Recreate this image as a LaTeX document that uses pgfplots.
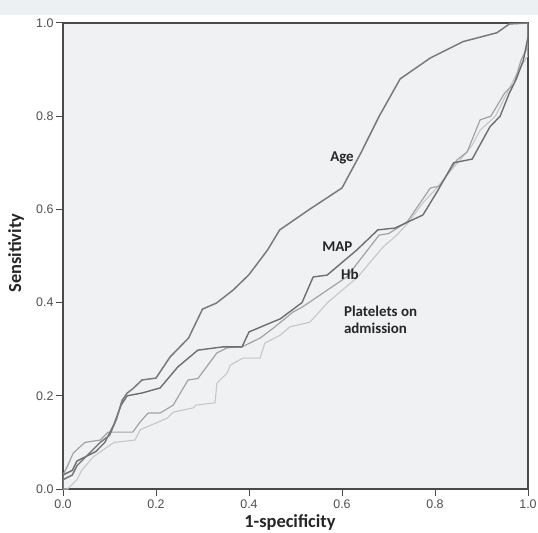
\documentclass[border=0pt]{standalone}
\usepackage{fontspec}
\setmainfont{Carlito}
\newfontfamily\arialfont{Liberation Sans}
\usepackage{pgfplots}
\pgfplotsset{compat=1.18}

\definecolor{bgplot}{HTML}{F0F1F3}
\definecolor{topband}{HTML}{EDF0F3}
\definecolor{axisgray}{HTML}{4A4A4A}
\definecolor{ticklab}{HTML}{4F4F4F}
\definecolor{agecol}{HTML}{7A7A7A}
\definecolor{mapcol}{HTML}{6E6E6E}
\definecolor{hbcol}{HTML}{A2A2A2}
\definecolor{pltcol}{HTML}{C6C6C6}

\begin{document}
\begin{tikzpicture}
\path[use as bounding box] (-63bp,-44bp) rectangle (475bp,489bp);
\fill[topband] (-63bp,474bp) rectangle (475bp,489bp);
\begin{axis}[
    scale only axis,
    width=465bp,
    height=466bp,
    xmin=0, xmax=1,
    ymin=0, ymax=1,
    xtick={0,0.2,...,1.0},
    ytick={0,0.2,...,1.0},
    xticklabel={\pgfmathprintnumber[fixed,fixed zerofill,precision=1,assume math mode=true]{\tick}},
    yticklabel={\pgfmathprintnumber[fixed,fixed zerofill,precision=1,assume math mode=true]{\tick}},
    tick label style={font=\arialfont\fontsize{12.5}{13}\selectfont, text=ticklab},
    yticklabel style={xshift=1bp},
    tick align=outside,
    tick pos=left,
    major tick length=7bp,
    every tick/.style={axisgray, line width=1pt},
    axis line style={axisgray, line width=1.3pt},
    axis background/.style={fill=bgplot},
    xlabel={\bfseries 1-specificity},
    ylabel={\bfseries Sensitivity},
    label style={font=\fontsize{18.5}{20}\selectfont, text=black!85},
    xlabel style={at={(axis description cs:0.488,0)}, anchor=base, yshift=-38bp},
    ylabel style={at={(axis description cs:-0.0903,0.506)}, anchor=base},
    clip=true,
]

% Platelets on admission
\addplot[pltcol, line width=1.1pt] coordinates {
(0,0) (0.01,0) (0.02,0.01) (0.03,0.02) (0.04,0.04) (0.065,0.069) (0.095,0.09)
(0.11,0.1) (0.155,0.105) (0.166,0.127) (0.224,0.152) (0.237,0.165) (0.28,0.174)
(0.286,0.18) (0.327,0.185) (0.331,0.227) (0.353,0.249) (0.36,0.266) (0.387,0.281)
(0.424,0.281) (0.434,0.313) (0.467,0.33) (0.488,0.348) (0.531,0.358) (0.57,0.401)
(0.634,0.455) (0.688,0.519) (0.718,0.545) (0.742,0.571) (0.774,0.614) (0.804,0.646)
(0.826,0.674) (0.854,0.706) (0.88,0.738) (0.897,0.77) (0.93,0.8) (0.96,0.86)
(0.98,0.9) (1,0.93) (1,1)
};

% Hb
\addplot[hbcol, line width=1.2pt] coordinates {
(0,0) (0,0.03) (0.01,0.05) (0.022,0.077) (0.047,0.1) (0.08,0.105) (0.097,0.122)
(0.15,0.122) (0.166,0.144) (0.183,0.163) (0.209,0.163) (0.237,0.18) (0.269,0.234)
(0.29,0.237) (0.331,0.292) (0.353,0.303) (0.385,0.305) (0.424,0.324) (0.452,0.345)
(0.495,0.38) (0.514,0.39) (0.61,0.455) (0.68,0.545) (0.70,0.548) (0.74,0.573)
(0.79,0.646) (0.81,0.65) (0.847,0.706) (0.869,0.723) (0.897,0.792) (0.92,0.8)
(0.95,0.85) (0.97,0.87) (0.985,0.92) (1,0.95) (1,1)
};

% MAP
\addplot[mapcol, line width=1.4pt] coordinates {
(0,0) (0,0.03) (0.02,0.04) (0.03,0.06) (0.05,0.07) (0.07,0.08) (0.09,0.1)
(0.11,0.14) (0.125,0.18) (0.138,0.2) (0.17,0.206) (0.209,0.217) (0.247,0.262)
(0.29,0.298) (0.344,0.305) (0.385,0.305) (0.40,0.337) (0.445,0.356) (0.467,0.365)
(0.514,0.40) (0.538,0.455) (0.568,0.459) (0.632,0.513) (0.677,0.556) (0.714,0.56)
(0.774,0.588) (0.804,0.637) (0.84,0.70) (0.88,0.708) (0.918,0.777) (0.94,0.8)
(0.96,0.85) (0.975,0.88) (0.99,0.92) (1,0.97) (1,1)
};

% Age
\addplot[agecol, line width=1.5pt] coordinates {
(0,0) (0,0.02) (0.02,0.03) (0.03,0.05) (0.05,0.07) (0.065,0.085) (0.08,0.1)
(0.1,0.115) (0.115,0.15) (0.127,0.19) (0.138,0.206) (0.15,0.215) (0.17,0.234)
(0.20,0.238) (0.23,0.283) (0.27,0.324) (0.30,0.386) (0.33,0.399) (0.366,0.427)
(0.40,0.46) (0.44,0.513) (0.466,0.556) (0.53,0.60) (0.60,0.646) (0.64,0.72)
(0.68,0.80) (0.725,0.88) (0.79,0.925) (0.86,0.96) (0.933,0.979) (0.96,0.998) (1,1)
};

\node[font=\bfseries\fontsize{15}{16}\selectfont, text=black!85] at (axis cs:0.60,0.71) {Age};
\node[font=\bfseries\fontsize{15}{16}\selectfont, text=black!85] at (axis cs:0.59,0.52) {MAP};
\node[font=\bfseries\fontsize{15}{16}\selectfont, text=black!85] at (axis cs:0.617,0.46) {Hb};
\node[font=\bfseries\fontsize{15}{17.5}\selectfont, text=black!85, anchor=west, align=left, inner sep=0pt] at (axis cs:0.604,0.363) {Platelets on\\admission};

\end{axis}
\end{tikzpicture}
\end{document}
